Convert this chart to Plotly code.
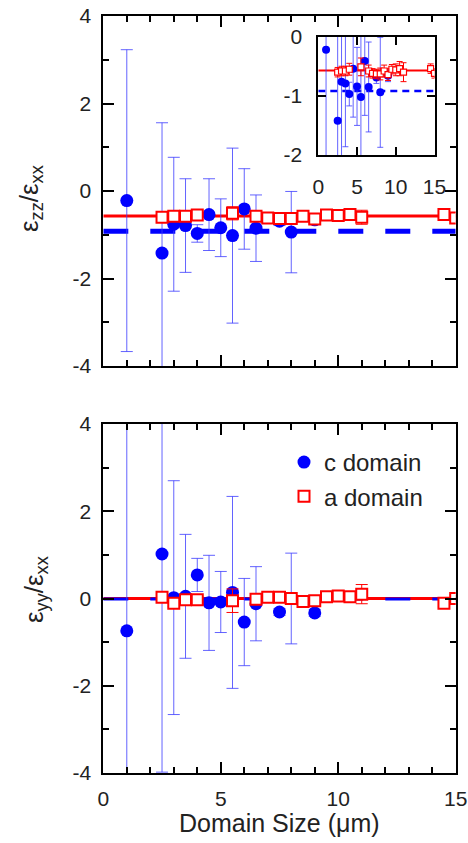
import plotly.graph_objects as go

# ---------------- data ----------------
c_x = [1, 2.5, 3, 3.5, 4, 4.5, 5, 5.5, 6, 6.5, 7.5, 8, 9]
c_zz = [-0.22, -1.42, -0.76, -0.79, -0.97, -0.54, -0.84, -1.02, -0.41, -0.85, -0.69, -0.94, -0.66]
c_zz_err = [3.45, 2.98, 1.53, 1.07, 0.2, 0.82, 0.66, 2.0, 0.92, 0.76, 0.1, 0.93, 0.1]

a_x = [2.5, 3, 3.5, 4, 5.5, 6.5, 7, 7.5, 8, 8.5, 9, 9.5, 10, 10.5, 11, 14.5, 15]
a_zz = [-0.60, -0.58, -0.58, -0.55, -0.51, -0.58, -0.62, -0.63, -0.63, -0.58, -0.64,
        -0.55, -0.56, -0.54, -0.60, -0.54, -0.62]
a_zz_err = [0.08, 0.08, 0.08, 0.1, 0.15, 0.1, 0.08, 0.08, 0.1, 0.1, 0.1,
            0.08, 0.1, 0.12, 0.16, 0.08, 0.08]

c_yy = [-0.74, 1.02, 0.02, 0.05, 0.54, -0.1, -0.08, 0.14, -0.54, -0.12, -0.31, 0.0, -0.33]
c_yy_err = [5.0, 5.0, 2.68, 1.42, 0.38, 1.09, 0.7, 2.2, 1.0, 0.85, 0.08, 1.04, 0.08]

a_yy = [0.03, -0.11, -0.03, -0.03, -0.05, -0.02, 0.03, 0.03, 0.0, -0.07, -0.05,
        0.04, 0.06, 0.04, 0.1, -0.11, 0.0]
a_yy_err = [0.08, 0.08, 0.08, 0.08, 0.27, 0.08, 0.08, 0.08, 0.08, 0.08, 0.08,
            0.08, 0.1, 0.12, 0.22, 0.08, 0.08]

fit_zz_a = -0.57
fit_zz_c = -0.92
fit_yy_a = 0.0
fit_yy_c = -0.01
fit_x = [0, 15]

x_ticks = [0, 5, 10, 15]
x_tick_text = ["0", "5", "10", "15"]
y_ticks_main = [-4, -2, 0, 2, 4]
y_tick_text_main = ["-4", "-2", "0", "2", "4"]
y_ticks_inset = [-2, -1, 0]
y_tick_text_inset = ["-2", "-1", "0"]

BLUE = "#0000ff"
BLUE_ERR = "rgba(60,60,255,0.8)"
RED = "#ff0000"
FONT = "Liberation Sans, Arial, sans-serif"

fig = go.Figure()


def add_panel(xa, ya, c_y, c_err, a_y, a_err, fa, fc, small=False, legend=False):
    ms_c = 8 if small else 13
    ms_a = 6 if small else 11
    lw_a = 1.2 if small else 2
    cap = 3 if small else 6
    lw_fit = 2 if small else 3
    lw_dash = 2.5 if small else (5 if not legend else 3)
    dash = "7px,5px" if small else "25px,22px"
    fig.add_trace(go.Scatter(x=fit_x, y=[fa, fa], mode="lines", xaxis=xa, yaxis=ya,
                             line=dict(color=RED, width=lw_fit), showlegend=False,
                             hoverinfo="skip"))
    fig.add_trace(go.Scatter(x=fit_x, y=[fc, fc], mode="lines", xaxis=xa, yaxis=ya,
                             line=dict(color=BLUE, width=lw_dash, dash=dash),
                             showlegend=False, hoverinfo="skip"))
    fig.add_trace(go.Scatter(x=c_x, y=c_y, mode="markers", xaxis=xa, yaxis=ya,
                             name="c domain", showlegend=legend,
                             marker=dict(symbol="circle", size=ms_c, color=BLUE),
                             error_y=dict(type="data", array=c_err, color=BLUE_ERR,
                                          thickness=1, width=cap)))
    fig.add_trace(go.Scatter(x=a_x, y=a_y, mode="markers", xaxis=xa, yaxis=ya,
                             name="a domain", showlegend=legend,
                             marker=dict(symbol="square", size=ms_a, color="white",
                                         line=dict(color=RED, width=lw_a)),
                             error_y=dict(type="data", array=a_err, color=RED,
                                          thickness=1, width=cap)))


add_panel("x", "y", c_zz, c_zz_err, a_zz, a_zz_err, fit_zz_a, fit_zz_c)
add_panel("x2", "y2", c_yy, c_yy_err, a_yy, a_yy_err, fit_yy_a, fit_yy_c, legend=True)
add_panel("x3", "y3", c_zz, c_zz_err, a_zz, a_zz_err, fit_zz_a, fit_zz_c, small=True)

W, H = 468, 843
X0, X1 = 103.3, 455.7


def px_dom(a, b):
    return [a / W, b / W]


def py_dom(top, bottom):
    return [1 - bottom / H, 1 - top / H]


main_ax = dict(showline=True, linewidth=2, linecolor="black", mirror="allticks",
               ticks="inside", tickwidth=2, ticklen=11, tickcolor="black",
               showgrid=False, zeroline=False, automargin=False,
               tickfont=dict(family=FONT, size=21, color="#222"))
minor = dict(ticks="inside", ticklen=6, tickwidth=1.5, tickcolor="black", showgrid=False)

fig.update_layout(
    width=W, height=H, autosize=False,
    margin=dict(l=0, r=0, t=0, b=0, autoexpand=False),
    paper_bgcolor="white", plot_bgcolor="white",
    font=dict(family=FONT, color="#222"),
    xaxis=dict(main_ax, domain=px_dom(X0, X1), anchor="y", range=[0, 15],
               tickvals=x_ticks, ticktext=x_tick_text, showticklabels=False,
               minor=dict(minor, dtick=1)),
    yaxis=dict(main_ax, domain=py_dom(16, 366), anchor="x", range=[-4, 4],
               tickvals=y_ticks_main, ticktext=y_tick_text_main,
               minor=dict(minor, dtick=1), ticklabelstandoff=6),
    xaxis2=dict(main_ax, domain=px_dom(X0, X1), anchor="y2", range=[0, 15],
                tickvals=x_ticks, ticktext=x_tick_text,
                minor=dict(minor, dtick=1), ticklabelstandoff=6),
    yaxis2=dict(main_ax, domain=py_dom(424, 773), anchor="x2", range=[-4, 4],
                tickvals=y_ticks_main, ticktext=y_tick_text_main,
                minor=dict(minor, dtick=1), ticklabelstandoff=6),
    xaxis3=dict(main_ax, domain=px_dom(318.3, 434.5), anchor="y3", range=[0, 15],
                tickvals=x_ticks, ticktext=x_tick_text, ticklen=8, ticklabelstandoff=12),
    yaxis3=dict(main_ax, domain=py_dom(36.7, 155), anchor="x3", range=[-2, 0],
                tickvals=y_ticks_inset, ticktext=y_tick_text_inset,
                ticklen=8, ticklabelstandoff=10),
    legend=dict(x=284 / W, y=1 - 440 / H, xanchor="left", yanchor="top",
                bgcolor="rgba(0,0,0,0)", font=dict(family=FONT, size=24, color="#222"),
                tracegroupgap=0, itemsizing="trace"),
    showlegend=True,
)

fig.add_annotation(text="ε<sub>zz</sub>/ε<sub>xx</sub>", xref="paper", yref="paper",
                   x=30 / W, y=1 - 198 / H, xanchor="center", yanchor="middle",
                   textangle=-90, showarrow=False,
                   font=dict(family=FONT, size=26, color="#222"))
fig.add_annotation(text="ε<sub>yy</sub>/ε<sub>xx</sub>", xref="paper", yref="paper",
                   x=35 / W, y=1 - 590 / H, xanchor="center", yanchor="middle",
                   textangle=-90, showarrow=False,
                   font=dict(family=FONT, size=26, color="#222"))
fig.add_annotation(text="Domain Size (μm)", xref="paper", yref="paper",
                   x=279 / W, y=1 - 823 / H, xanchor="center", yanchor="middle",
                   showarrow=False, font=dict(family=FONT, size=25, color="#222"))

fig.write_html(
    "out.html",
    config={"displayModeBar": False},
    post_script="document.body.style.margin='0';document.body.style.overflow='hidden';",
)
